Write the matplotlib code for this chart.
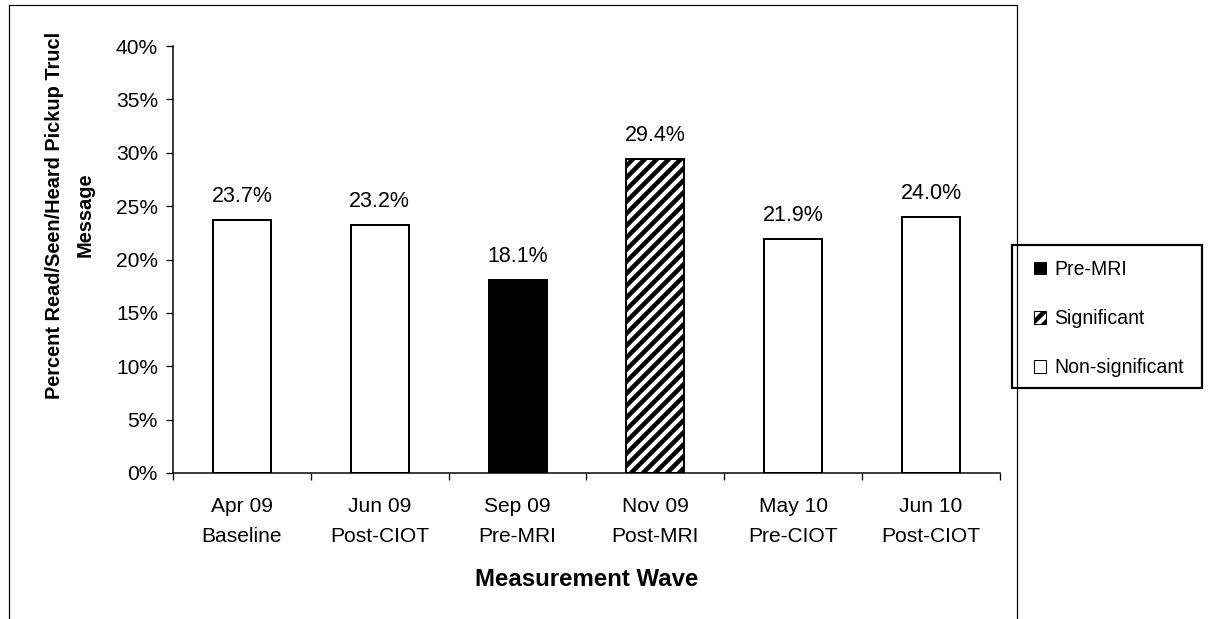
import matplotlib.pyplot as plt
from matplotlib.patches import Patch, Rectangle
from matplotlib.lines import Line2D
from matplotlib.ticker import PercentFormatter, FixedLocator

waves = ["Apr 09\nBaseline", "Jun 09\nPost-CIOT", "Sep 09\nPre-MRI",
         "Nov 09\nPost-MRI", "May 10\nPre-CIOT", "Jun 10\nPost-CIOT"]
values = [23.7, 23.2, 18.1, 29.4, 21.9, 24.0]
groups = ["Non-significant", "Non-significant", "Pre-MRI",
          "Significant", "Non-significant", "Non-significant"]
legend_order = ["Pre-MRI", "Significant", "Non-significant"]

styles = {
    "Pre-MRI": dict(facecolor="black", hatch=None),
    "Significant": dict(facecolor="white", hatch="//"),
    "Non-significant": dict(facecolor="white", hatch=None),
}

plt.rcParams['font.family'] = ['Liberation Sans', 'DejaVu Sans']
plt.rcParams['hatch.linewidth'] = 4.5

W, H = 1214, 619
# dpi 72 so one hatch unit = 72 px
fig = plt.figure(figsize=(W / 72, H / 72), dpi=72)
ax = fig.add_axes([173 / W, 1 - 473 / H, 827 / W, 427 / H])

x = list(range(len(values)))
for xi, v, g in zip(x, values, groups):
    st = styles[g]
    ax.bar(xi, v, width=0.42, color=st["facecolor"], edgecolor="black",
           linewidth=2, hatch=st["hatch"], zorder=3)
    ax.annotate(f"{v:.1f}%", (xi, v), xytext=(0, 13), textcoords="offset points",
                ha="center", va="bottom", fontsize=21.5)

ax.set_xlim(-0.5, len(values) - 0.5)
ax.set_ylim(0, 40)
ax.set_yticks(range(0, 41, 5))
ax.yaxis.set_major_formatter(PercentFormatter(decimals=0))
ax.set_xticks(x)
ax.set_xticklabels(waves, fontsize=21, linespacing=1.7)
ax.tick_params(axis="x", length=0, pad=24)
ax.xaxis.set_minor_locator(FixedLocator([i - 0.5 for i in range(len(values) + 1)]))
ax.tick_params(axis="x", which="minor", length=7, width=1.3, direction="out")
ax.tick_params(axis="y", length=7, width=1.3, direction="out", labelsize=21, pad=8)

for s in ["top", "right"]:
    ax.spines[s].set_visible(False)
for s in ["left", "bottom"]:
    ax.spines[s].set_linewidth(1.5)

ax.set_xlabel("Measurement Wave", fontsize=24, fontweight="bold", labelpad=22)
fig.text(70 / W, 1 - 215 / H, "Percent Read/Seen/Heard Pickup Trucl\nMessage",
         rotation=90, ha="center", va="center", multialignment="center",
         fontsize=20, fontweight="bold", linespacing=1.8)

# legend box drawn separately so the padding can match
fig.add_artist(Rectangle((1012 / W, 1 - 388 / H), 190 / W, 143 / H,
                         transform=fig.transFigure, facecolor="white",
                         edgecolor="black", linewidth=2.2, zorder=1))
handles = [Patch(facecolor=styles[g]["facecolor"], edgecolor="black",
                 hatch=styles[g]["hatch"], linewidth=1) for g in legend_order]
leg = fig.legend(handles, legend_order, loc="upper left",
                 bbox_to_anchor=(1034 / W, 1 - 260 / H),
                 fontsize=19.5, frameon=False,
                 handlelength=0.62, handleheight=0.62, handletextpad=0.4,
                 labelspacing=1.55, borderpad=0, borderaxespad=0)
leg.set_zorder(5)

# outer chart-area border
for xs, ys in [([9, 9], [0, 614]), ([9, 1017], [614, 614]), ([1017, 1017], [0, 614])]:
    fig.add_artist(Line2D([a / W for a in xs], [b / H for b in ys],
                          color="black", linewidth=1.2))

fig.savefig("out.png", dpi=72)
